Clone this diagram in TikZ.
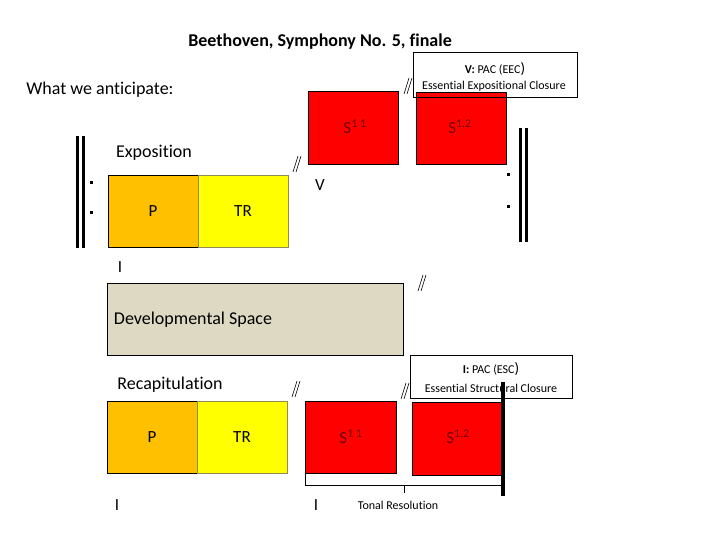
\documentclass[tikz,border=0pt]{standalone}
\usepackage{fontspec}
\setmainfont[RawFeature={-liga}]{Carlito}
\definecolor{porange}{HTML}{FFC000}
\definecolor{tryellow}{HTML}{FFFF00}
\definecolor{sred}{HTML}{FF0000}
\definecolor{devtan}{HTML}{DDD9C3}
\definecolor{slabel}{HTML}{700000}
\begin{document}
\begin{tikzpicture}[x=1pt,y=-1pt,
  blk/.style={draw=black, line width=0.8pt, minimum width=90pt, minimum height=72pt, inner sep=0pt, font=\fontsize{17}{19}\selectfont},
  trblk/.style={blk, fill=tryellow, draw=gray!60!olive},
  sblk/.style={blk, fill=sred, text=slabel},
  slbl/.style={text=slabel, font=\fontsize{17}{19}\selectfont, inner sep=0pt},
  lbl/.style={font=\fontsize{18}{21}\selectfont, inner sep=0pt},
  small/.style={font=\fontsize{12}{14}\selectfont, inner sep=0pt},
  pacbox/.style={draw=black, line width=0.7pt, minimum width=164pt, minimum height=45pt, inner sep=0pt},
  bar/.style={line width=3pt},
  dot/.style={fill=black, minimum size=3pt, inner sep=0pt},
  numeral/.style={font=\fontsize{17}{19}\selectfont, inner sep=0pt},
  dslash/.pic={\draw[line width=0.6pt] (-4,8) -- (1,-8); \draw[line width=0.6pt] (-1,8) -- (4,-8);}
]
\useasboundingbox (0,0) rectangle (720,540);

% title
\node[font=\fontsize{18}{21}\selectfont\bfseries, inner sep=0pt] (title) at (320,42) {Beethoven, Symphony No. 5, finale};
\node[lbl] (antic) at (100,90) {What we anticipate:};

% top S boxes
\node[sblk, minimum width=90pt, minimum height=73pt] (s11t) at (353,127.5) {};
\node[sblk] (s12t) at (461,128) {};
\node[slbl] (s11tl) at (355,127) {S\textsuperscript{1 1}};
\node[slbl] (s12tl) at (460,127) {S\textsuperscript{1.2}};

% EEC box
\node[pacbox] (eec) at (495,74.5) {};
\node[small] (eec1) at (495,69) {\textbf{V:} PAC (EEC\raisebox{0pt}{\fontsize{15}{15}\selectfont )}};
\node[small] (eec2) at (494,86) {Essential Expositional Closure};
\pic at (408,86) {dslash};

% left repeat bars
\draw[bar] (77,136) -- (77,248);
\draw[bar] (83,136) -- (83,248);
\node[dot] (d1) at (91,183) {};
\node[dot] (d2) at (91,213) {};

% exposition
\node[lbl] (expo) at (154,153) {Exposition};
\node[blk, fill=porange] (p1) at (153,211) {P};
\node[trblk] (tr1) at (243,211) {TR};
\node[numeral] (i1) at (120,267) {I};
\node[numeral] (v1) at (320,185) {V};
\pic at (297,164) {dslash};

% right repeat bars
\draw[bar] (520,128) -- (520,242);
\draw[bar] (526,128) -- (526,242);
\node[dot] (d3) at (508,175) {};
\node[dot] (d4) at (508,207) {};

% developmental space
\node[blk, fill=devtan, minimum width=296pt] (dev) at (255,319) {};
\node[lbl] (devl) at (193,320) {Developmental Space};
\pic at (422,283) {dslash};

% recapitulation
\node[lbl] (recap) at (170,385) {Recapitulation};
\pic at (296,389) {dslash};
\node[pacbox, minimum width=162pt, minimum height=43pt] (esc) at (491,376.5) {};
\node[small] (esc1) at (491,369) {\textbf{I:} PAC (ESC\raisebox{0pt}{\fontsize{15}{15}\selectfont )}};
\node[small] (esc2) at (491,388) {Essential Structural Closure};
\pic at (405,391) {dslash};

\node[blk, fill=porange] (p2) at (152,437) {P};
\node[trblk] (tr2) at (242,437) {TR};
\node[sblk, minimum width=91pt] (s11b) at (350.5,437) {};
\node[sblk, minimum width=91pt, minimum height=73pt] (s12b) at (457.5,438.5) {};
\node[slbl] (s11bl) at (351,437) {S\textsuperscript{1 1}};
\node[slbl] (s12bl) at (458,437) {S\textsuperscript{1.2}};

\draw[line width=3.5pt] (503,382) -- (503,496);

% tonal resolution bracket
\coordinate (bl) at (305,474);
\coordinate (br) at (503,474);
\coordinate (bm) at (404,485);
\draw[line width=0.7pt] (bl) -- (305,485) -- (503,485) -- (br);
\draw[line width=0.7pt] (bm) -- (404,493);
\node[small] (tonal) at (398,505) {Tonal Resolution};
\node[numeral] (i2) at (117,505) {I};
\node[numeral] (i3) at (316,505) {I};
\end{tikzpicture}
\end{document}
